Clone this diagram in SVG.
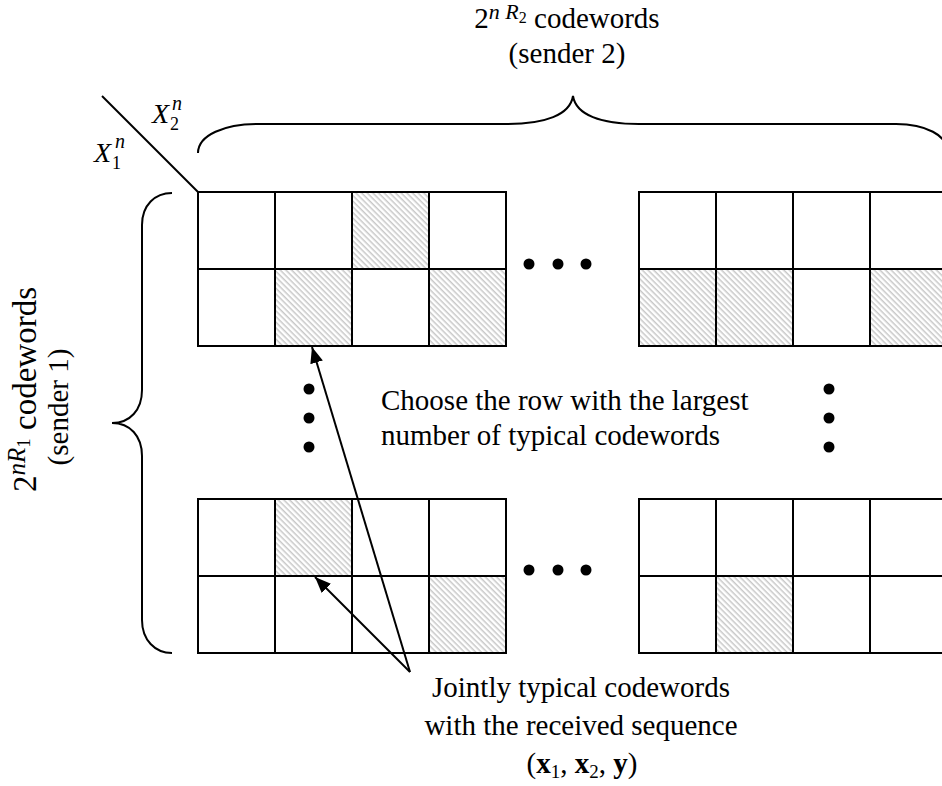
<svg xmlns="http://www.w3.org/2000/svg" width="942" height="786" viewBox="0 0 942 786">
<style>
.t{font-family:"Liberation Serif","Times New Roman",serif;font-size:29px;fill:#000}
.tl{font-family:"Liberation Serif","Times New Roman",serif;font-size:33px;fill:#000}
.m{font-family:"Liberation Serif","Times New Roman",serif;fill:#000}
.cell{fill:#fff;stroke:#000;stroke-width:2}
.hat{fill:url(#hatch);stroke:#000;stroke-width:2}
.br{fill:none;stroke:#000;stroke-width:2}
.dot{fill:#000}
.arr{fill:none;stroke:#000;stroke-width:2;marker-end:url(#ah)}
</style>
<defs>
<pattern id="hatch" patternUnits="userSpaceOnUse" width="4" height="4" patternTransform="rotate(45)">
<rect width="4" height="4" fill="#fff"/>
<rect y="0" width="4" height="1.5" fill="#c8c8c8"/>
</pattern>
<marker id="ah" viewBox="0 0 10 10" refX="10" refY="5" markerWidth="16" markerHeight="13" markerUnits="userSpaceOnUse" orient="auto" preserveAspectRatio="none">
<path d="M0,0 L10,5 L0,10 z" fill="#000"/>
</marker>
</defs>
<rect width="942" height="786" fill="#fff"/>

<g id="top-label">
<text class="t" x="567" y="28" text-anchor="middle">2<tspan dy="-9" font-size="22" font-style="italic">n R</tspan><tspan dy="4" font-size="16">2</tspan><tspan dy="5"> codewords</tspan></text>
<text class="t" x="567" y="63" text-anchor="middle">(sender 2)</text>
</g>

<g id="left-label">
<text class="tl" transform="translate(36,492) rotate(-90)">2<tspan dy="-11" font-size="25" font-style="italic">nR</tspan><tspan dy="5" font-size="19">1</tspan><tspan dy="6"> codewords</tspan></text>
<text class="t" transform="translate(68,407) rotate(-90)" text-anchor="middle">(sender 1)</text>
</g>

<g id="axis-labels">
<line class="br" x1="102" y1="96" x2="198" y2="192"/>
<text class="m" x="152" y="123" font-size="28" font-style="italic">X</text>
<text class="m" x="170" y="130" font-size="18">2</text>
<text class="m" x="172" y="110" font-size="20" font-style="italic">n</text>
<text class="m" x="94" y="162" font-size="28" font-style="italic">X</text>
<text class="m" x="112" y="169" font-size="18">1</text>
<text class="m" x="115" y="148" font-size="20" font-style="italic">n</text>
</g>

<g id="brace-top">
<path class="br" d="M198,153 C198,135 225,124 257,124 L507,124 C545,124 570,115 573,96 C576,115 601,124 639,124 L896,124 C925,124 948,135 948,153"/>
</g>
<g id="brace-left">
<path class="br" d="M172,193 C155,193 142,205 142,225 L142,390 C142,410 130,423 112,423 C130,423 142,436 142,456 L142,620 C142,640 155,653 172,653"/>
</g>

<g id="grid-top-left">
<rect class="cell" x="198" y="192" width="77" height="77"/>
<rect class="cell" x="275" y="192" width="77" height="77"/>
<rect class="hat" x="352" y="192" width="77" height="77"/>
<rect class="cell" x="429" y="192" width="77" height="77"/>
<rect class="cell" x="198" y="269" width="77" height="77"/>
<rect class="hat" x="275" y="269" width="77" height="77"/>
<rect class="cell" x="352" y="269" width="77" height="77"/>
<rect class="hat" x="429" y="269" width="77" height="77"/>
</g>
<g id="grid-top-right">
<rect class="cell" x="639" y="192" width="77" height="77"/>
<rect class="cell" x="716" y="192" width="77" height="77"/>
<rect class="cell" x="793" y="192" width="77" height="77"/>
<rect class="cell" x="870" y="192" width="77" height="77"/>
<rect class="hat" x="639" y="269" width="77" height="77"/>
<rect class="hat" x="716" y="269" width="77" height="77"/>
<rect class="cell" x="793" y="269" width="77" height="77"/>
<rect class="hat" x="870" y="269" width="77" height="77"/>
</g>
<g id="grid-bottom-left">
<rect class="cell" x="198" y="499" width="77" height="77"/>
<rect class="hat" x="275" y="499" width="77" height="77"/>
<rect class="cell" x="352" y="499" width="77" height="77"/>
<rect class="cell" x="429" y="499" width="77" height="77"/>
<rect class="cell" x="198" y="576" width="77" height="77"/>
<rect class="cell" x="275" y="576" width="77" height="77"/>
<rect class="cell" x="352" y="576" width="77" height="77"/>
<rect class="hat" x="429" y="576" width="77" height="77"/>
</g>
<g id="grid-bottom-right">
<rect class="cell" x="639" y="499" width="77" height="77"/>
<rect class="cell" x="716" y="499" width="77" height="77"/>
<rect class="cell" x="793" y="499" width="77" height="77"/>
<rect class="cell" x="870" y="499" width="77" height="77"/>
<rect class="cell" x="639" y="576" width="77" height="77"/>
<rect class="hat" x="716" y="576" width="77" height="77"/>
<rect class="cell" x="793" y="576" width="77" height="77"/>
<rect class="cell" x="870" y="576" width="77" height="77"/>
</g>

<g id="ellipses">
<circle class="dot" cx="529" cy="264" r="5.5"/>
<circle class="dot" cx="558" cy="264" r="5.5"/>
<circle class="dot" cx="586" cy="264" r="5.5"/>
<circle class="dot" cx="529" cy="570" r="5.5"/>
<circle class="dot" cx="558" cy="570" r="5.5"/>
<circle class="dot" cx="586" cy="570" r="5.5"/>
<circle class="dot" cx="309" cy="389" r="5.5"/>
<circle class="dot" cx="309" cy="418" r="5.5"/>
<circle class="dot" cx="309" cy="447" r="5.5"/>
<circle class="dot" cx="829" cy="389" r="5.5"/>
<circle class="dot" cx="829" cy="418" r="5.5"/>
<circle class="dot" cx="829" cy="447" r="5.5"/>
</g>

<g id="middle-label">
<text class="t" x="381" y="410">Choose the row with the largest</text>
<text class="t" x="381" y="445">number of typical codewords</text>
</g>

<g id="connectors">
<line class="arr" x1="410" y1="672" x2="312" y2="347"/>
<line class="arr" x1="410" y1="672" x2="315" y2="577"/>
</g>

<g id="bottom-label">
<text class="t" x="581" y="697" text-anchor="middle">Jointly typical codewords</text>
<text class="t" x="581" y="735" text-anchor="middle">with the received sequence</text>
<text class="t" x="582" y="773" text-anchor="middle">(<tspan font-weight="bold">x</tspan><tspan dy="5" font-size="19">1</tspan><tspan dy="-5">, </tspan><tspan font-weight="bold">x</tspan><tspan dy="5" font-size="19">2</tspan><tspan dy="-5">, </tspan><tspan font-weight="bold">y</tspan>)</text>
</g>
</svg>
